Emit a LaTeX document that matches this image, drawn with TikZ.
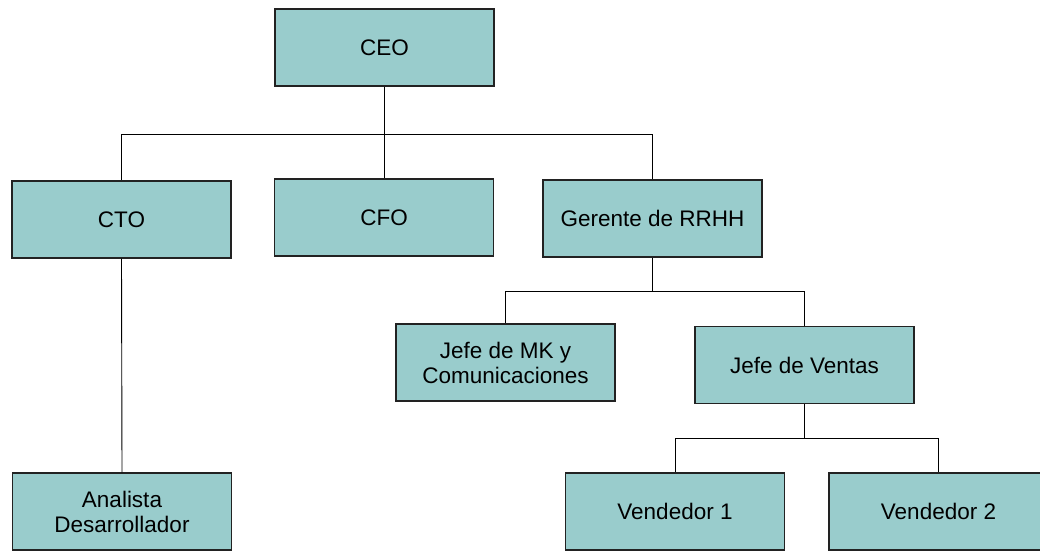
\documentclass[tikz,border=0pt]{standalone}
\usepackage{fontspec}
\setmainfont{Liberation Sans}
\definecolor{boxfill}{HTML}{99CCCC}
\definecolor{boxline}{HTML}{222222}
\begin{document}
\begin{tikzpicture}[x=1pt,y=-1pt]
        \tikzstyle{post}=[rectangle, draw=boxline, line width=1.2pt, fill=boxfill, minimum width=219pt, minimum height=77pt, align=center, font=\fontsize{22.5}{25}\selectfont, inner sep=0pt]
        \tikzstyle{link}=[draw=black, line width=0.9pt]
        \useasboundingbox (0,0) rectangle (1040,550);
        % top level
        \node[post] (ceo) at (384.5, 47.5) {CEO};
        \node[post] (cto) at (121.5, 219.5) {CTO};
        \node[post] (cfo) at (384, 217.5) {CFO};
        \node[post] (gerente) at (652.5, 218.5) {Gerente de RRHH};
        % second level
        \node[post] (mk) at (505.5, 362.5) {Jefe de MK y\\Comunicaciones};
        \node[post] (ventas) at (804.5, 365) {Jefe de Ventas};
        % bottom level
        \node[post] (analista) at (122, 511.5) {Analista\\Desarrollador};
        \node[post] (vend1) at (675, 511.5) {Vendedor 1};
        \node[post] (vend2) at (938.5, 511.5) {Vendedor 2};

        \coordinate (bus-ceo) at (384.5, 134);
        \coordinate (bus-gerente) at (652.5, 291);
        \coordinate (bus-ventas) at (804.5, 438);

        \draw[link] (ceo.south) -- (bus-ceo) -| (cto.north);
        \draw[link] (bus-ceo) -| (cfo.north);
        \draw[link] (bus-ceo) -| (gerente.north);
        \draw[link] (cto.south) -- (analista.north);
        \draw[link] (gerente.south) -- (bus-gerente) -| (mk.north);
        \draw[link] (bus-gerente) -| (ventas.north);
        \draw[link] (ventas.south) -- (bus-ventas) -| (vend1.north);
        \draw[link] (bus-ventas) -| (vend2.north);
    \end{tikzpicture}
\end{document}
